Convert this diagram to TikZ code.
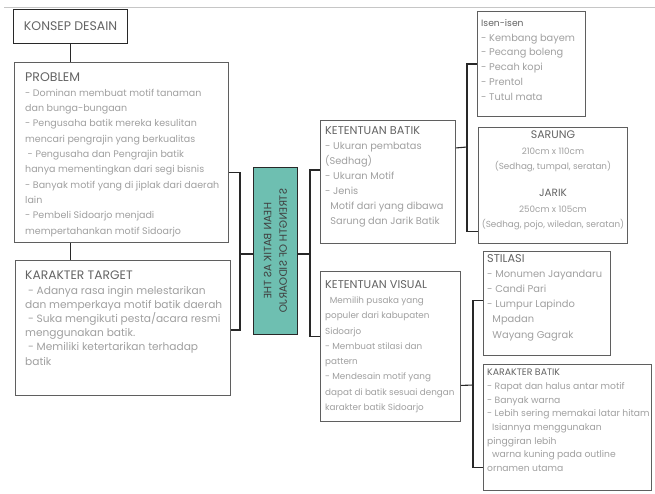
\documentclass[tikz,border=0pt]{standalone}
\usepackage{fontspec}
\setmainfont{Poppins}
\usetikzlibrary{calc}
\definecolor{tealc}{RGB}{110,191,177}
\definecolor{bodyc}{RGB}{160,160,160}
\definecolor{titc}{RGB}{100,100,100}
\definecolor{edgec}{RGB}{95,95,95}
\definecolor{linec}{RGB}{40,40,40}
\newcommand{\ttl}[2]{{\color{titc}\fontsize{#1}{#1}\selectfont #2}}
\begin{document}
\begin{tikzpicture}[x=1pt,y=-1pt,
  box/.style={draw=edgec, line width=0.9pt, fill=white, inner sep=0pt, anchor=north west},
  txt/.style={anchor=north west, inner sep=0pt, align=left, text=bodyc},
  conn/.style={draw=linec, line width=1.1pt}]
\useasboundingbox (0,0) rectangle (655,493);
\fill[white] (0,0) rectangle (655,493);
\draw[gray!45, line width=1pt] (4,7) -- (655,7);

% boxes
\node[box, draw=linec, line width=1.2pt, minimum width=114pt, minimum height=34pt] (konsep) at (13,9) {};
\node[anchor=center, inner sep=0pt, text=titc, font=\fontsize{12.5}{14}\selectfont] (konsept) at (konsep.center) {KONSEP DESAIN};

\node[box, minimum width=214pt, minimum height=180pt] (prob) at (14,62) {};
\node[txt, font=\fontsize{9.5}{15.3}\selectfont] (probt) at ([shift={(11,10)}]prob.north west) {\ttl{12.5}{PROBLEM}\\
- Dominan membuat motif tanaman\\
dan bunga-bungaan\\
- Pengusaha batik mereka kesulitan\\
mencari pengrajin yang berkualitas\\
\ - Pengusaha dan Pengrajin batik\\
hanya mementingkan dari segi bisnis\\
- Banyak motif yang di jiplak dari daerah\\
lain\\
- Pembeli Sidoarjo menjadi\\
mempertahankan motif Sidoarjo};

\node[box, minimum width=215pt, minimum height=135pt] (kt) at (15,260) {};
\node[txt, font=\fontsize{10.6}{14.2}\selectfont] (ktt) at ([shift={(10,11)}]kt.north west) {\ttl{12.3}{KARAKTER TARGET}\\
\ - Adanya rasa ingin melestarikan\\
dan memperkaya motif batik daerah\\
\ - Suka mengikuti pesta/acara resmi\\
menggunakan batik.\\
\ - Memiliki ketertarikan terhadap\\
batik};

\node[box, draw=linec, fill=tealc, minimum width=44pt, minimum height=167pt] (core) at (253,167) {};
\node[inner sep=0pt, align=center, text=black!75, font=\fontsize{10.6}{15.5}\selectfont, cm={0,-1,-1,0,(0,0)}] (coret) at (core.center) {HEAN BATIK AS THE\\STRENGTH OF SIDOARJO};

\node[box, minimum width=135pt, minimum height=123pt] (kb) at (320,120) {};
\node[txt, font=\fontsize{9.8}{15}\selectfont] (kbt) at ([shift={(5,6)}]kb.north west) {\ttl{11.3}{KETENTUAN BATIK}\\
- Ukuran pembatas\\
(Sedhag)\\
- Ukuran Motif\\
- Jenis\\
\ \ Motif dari yang dibawa\\
\ \ Sarung dan Jarik Batik};

\node[box, minimum width=140pt, minimum height=150pt] (kv) at (320,271) {};
\node[txt, font=\fontsize{8.8}{15.3}\selectfont] (kvt) at ([shift={(5,9)}]kv.north west) {\ttl{11.3}{KETENTUAN VISUAL}\\
\ \ Memilih pusaka yang\\
populer dari kabupaten\\
Sidoarjo\\
- Membuat stilasi dan\\
pattern\\
- Mendesain motif yang\\
dapat di batik sesuai dengan\\
karakter batik Sidoarjo};

\node[box, minimum width=108pt, minimum height=105pt] (isen) at (477,11) {};
\node[txt, font=\fontsize{9.8}{14.8}\selectfont] (isent) at ([shift={(4,8)}]isen.north west) {\ttl{9.2}{Isen-isen}\\
- Kembang bayem\\
- Pecang boleng\\
- Pecah kopi\\
- Prentol\\
- Tutul mata};

\node[box, minimum width=149pt, minimum height=116pt] (sarung) at (478,127) {};
\node[anchor=north, inner sep=0pt, align=center, text=bodyc, font=\fontsize{8.8}{15.3}\selectfont] (sarungt) at ([yshift=-4pt]sarung.north) {\ttl{11}{SARUNG}\\
210cm x 110cm\\
(Sedhag, tumpal, seratan)\\[12pt]
\ttl{10.5}{JARIK}\\
250cm x 105cm\\
(Sedhag, pojo, wiledan, seratan)};

\node[box, minimum width=127pt, minimum height=104pt] (stil) at (483,251) {};
\node[txt, font=\fontsize{9.9}{15.2}\selectfont] (stilt) at ([shift={(4,3)}]stil.north west) {\ttl{11.3}{STILASI}\\
- Monumen Jayandaru\\
- Candi Pari\\
- Lumpur Lapindo\\
\ \ Mpadan\\
\ \ Wayang Gagrak};

\node[box, minimum width=168pt, minimum height=126pt] (kbat) at (483,364) {};
\node[txt, font=\fontsize{9.2}{13.7}\selectfont] (kbatt) at ([shift={(4,5)}]kbat.north west) {\ttl{9.4}{KARAKTER BATIK}\\
- Rapat dan halus antar motif\\
- Banyak warna\\
- Lebih sering memakai latar hitam\\
\ \ Isiannya menggunakan\\
pinggiran lebih\\
\ \ warna kuning pada outline\\
ornamen utama};

% connectors
\coordinate (lb) at (240,254);
\coordinate (rb) at (310,254);
\coordinate (ub) at (467,147);
\coordinate (vb) at (473,385);

\draw[conn] (konsep.south) -- (konsep.south |- prob.north);
\draw[conn] (konsep.south |- prob.south) -- (konsep.south |- kt.north);
\draw[conn] ([yshift=-20pt]prob.east) -| (lb) |- ([yshift=-2pt]kt.east);
\draw[conn] (lb) -- (lb -| core.west);
\draw[conn] (core.east |- rb) -- (rb);
\draw[conn] ([yshift=12pt]kb.west) -| (rb) |- ([yshift=10pt]kv.west);
\draw[conn] ([yshift=34pt]kb.east) -- (ub);
\draw[conn] (isen.west) -| (ub) |- ([yshift=-46pt]sarung.west);
\draw[conn] ([yshift=-39pt]kv.east) -- (vb);
\draw[conn] ([yshift=3pt]stil.west) -| (vb) |- ([yshift=-40pt]kbat.west);
\end{tikzpicture}
\end{document}
